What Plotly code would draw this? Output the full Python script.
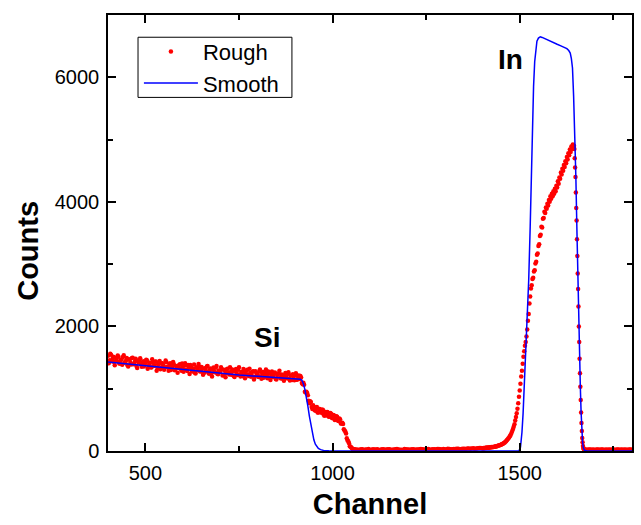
import plotly.graph_objects as go

# ---------------- data ----------------
# Rough spectrum (red points): channel / counts
rough_ch_si = list(range(400, 1064, 4))
rough_counts_si = [
    1530, 1457, 1544, 1480, 1427, 1499, 1446, 1513, 1404, 1471, 1508, 1415, 1447, 1378, 1475, 1422,
    1494, 1391, 1437, 1364, 1446, 1463, 1390, 1416, 1358, 1425,
    1457, 1364, 1407, 1339, 1426, 1373, 1435, 1338, 1395, 1312, 1404, 1371, 1339, 1426, 1343, 1385,
    1302, 1360, 1392, 1309, 1361, 1333, 1391, 1288, 1355,
    1308, 1376, 1283, 1336, 1379, 1287, 1320, 1257, 1345, 1298, 1351, 1279, 1321, 1249, 1327, 1355,
    1258, 1300, 1243, 1311, 1269, 1337, 1239, 1292, 1270,
    1313, 1222, 1290, 1249, 1322, 1230, 1269, 1307, 1206, 1284, 1247, 1306, 1224, 1268, 1206, 1284,
    1243, 1306, 1205, 1253, 1216, 1280, 1188, 1257, 1225,
    1278, 1196, 1244, 1177, 1255, 1218, 1276, 1179, 1237, 1190, 1253, 1156, 1219, 1242, 1175, 1228,
    1156, 1214, 1177, 1235, 1158, 1211, 1139, 1197, 1215, 1143, 1196, 1155,
    1180, 1070, 1065, 940, 930, 805, 800, 705, 735, 660, 695, 620, 673, 630, 663, 585,
    625, 570, 615, 555, 600, 525, 568, 515, 548, 480, 510, 440, 435, 330, 280, 170,
    125, 70, 45, 28, 25,
]

rough_ch_si2 = list(range(402, 1062, 4))
rough_counts_si2 = [
    1408, 1560, 1442, 1514, 1376, 1482, 1534, 1406, 1463, 1385, 1536, 1428, 1495, 1357, 1464, 1390,
    1497, 1399, 1481, 1333, 1419, 1491, 1353, 1440, 1392,
    1464, 1321, 1418, 1345, 1472, 1365, 1432, 1289, 1391, 1443, 1336, 1408, 1305, 1452, 1349, 1287,
    1409, 1321, 1428, 1295, 1363, 1255, 1382, 1319, 1406,
    1274, 1407, 1305, 1382, 1235, 1348, 1276, 1389, 1246, 1324, 1397, 1275, 1348, 1225, 1323, 1286,
    1364, 1242, 1324, 1197, 1340, 1263, 1366, 1233, 1286,
    1344, 1213, 1306, 1184, 1318, 1251, 1345, 1223, 1281, 1190, 1318, 1222, 1345, 1198, 1257, 1315,
    1169, 1287, 1220, 1319, 1192, 1271, 1149, 1282, 1216,
    1189, 1307, 1160, 1268, 1206, 1309, 1167, 1245, 1138, 1276, 1204, 1262, 1146, 1239, 1287, 1165,
    1218, 1126, 1254, 1167, 1265, 1133, 1211, 1234, 1136, 1250, 1148, 1211,
    1205, 1090, 1095, 950, 950, 895, 765, 785, 675, 710, 647, 705, 617, 674, 614, 662,
    565, 625, 625, 550, 610, 535, 579, 496, 559, 491, 523, 443, 453, 350, 315, 205,
    155, 78, 57, 30, 27,
]

rough_ch_gap = list(range(1068, 1400, 8))
rough_counts_gap = [
    22, 30, 18, 26, 20, 28, 24, 16, 30, 22, 27, 19, 25, 31, 22, 18, 27, 24, 30, 21, 26,
    33, 24, 28, 20, 30, 26, 32, 24, 29, 35, 27, 31, 36, 30, 38, 33, 40, 42, 38, 45, 48,
]
rough_ch_gap2 = list(range(1064, 1396, 8))
rough_counts_gap2 = [
    26, 20, 28, 23, 31, 19, 25, 29, 21, 27, 24, 30, 20, 28, 25, 22, 31, 26, 21, 29, 24,
    27, 30, 23, 31, 26, 28, 33, 27, 31, 26, 34, 29, 33, 38, 32, 37, 41, 36, 44, 40, 47,
]

rough_ch_in = list(range(1400, 1646, 2)) + [1645]
rough_counts_in = [
    45, 42, 50, 46, 52, 48, 55, 51, 58, 54, 60, 57, 63, 60, 66, 64, 70, 68, 75, 74,
    82, 84, 88, 92, 97, 102, 108, 112, 120, 128, 138, 148, 160, 175, 188, 205, 222, 240, 262, 290,
    320, 352, 388, 430, 490, 545, 605, 680, 765, 870, 970, 1080, 1195, 1290, 1400, 1512, 1600, 1690,
    1750, 1840, 1950, 2090, 2200, 2370, 2480, 2610, 2660, 2760, 2780, 2880, 2900, 3010, 3040, 3150,
    3170, 3290, 3320, 3450, 3470, 3600, 3590, 3730, 3740, 3840, 3820, 3910, 3890, 3970, 3940, 4030,
    4000, 4090, 4050, 4130, 4090, 4170, 4130, 4210, 4170, 4260, 4230, 4330, 4290, 4390, 4370, 4470,
    4440, 4530, 4500, 4590, 4560, 4650, 4620, 4720, 4680, 4780, 4750, 4840, 4800, 4890, 4850, 4920,
    4870, 4900,
]

rough_ch_edge = list(range(1646, 1673))
rough_counts_edge = [
    4850, 4700, 4550, 4400, 4150, 3900, 3700, 3400, 3130, 2850, 2600, 2320, 2000, 1750, 1480,
    1250, 1030, 820, 620, 450, 320, 210, 140, 80, 50, 35, 28,
]

rough_ch_tail = list(range(1676, 1804, 6))
rough_counts_tail = [24, 20, 26, 22, 18, 25, 21, 23, 19, 26, 22, 20, 24, 18, 23, 21, 25, 19, 22, 20, 24, 21]
rough_ch_tail2 = list(range(1679, 1800, 6))
rough_counts_tail2 = [21, 25, 19, 23, 22, 26, 20, 24, 18, 22, 25, 21, 23, 19, 24, 22, 20, 25, 21, 23, 19]

# Smooth simulation (blue line)
smooth_ch = [
    400, 450, 500, 550, 600, 650, 700, 750, 800, 850, 900, 910, 914, 918, 922, 926, 930, 934,
    938, 942, 946, 950, 954, 958, 962, 968, 976, 990, 1010, 1490, 1498, 1502, 1506, 1509, 1512,
    1515, 1519, 1524, 1528, 1531, 1534, 1537, 1540, 1543, 1546, 1550, 1555, 1560, 1570, 1580,
    1590, 1600, 1610, 1620, 1626, 1631, 1635, 1638, 1641, 1644, 1647, 1650, 1653, 1656, 1658,
    1660, 1662, 1664, 1666, 1668, 1670, 1673, 1680, 1700, 1800,
]
smooth_counts = [
    1430, 1400, 1370, 1340, 1310, 1278, 1245, 1222, 1200, 1180, 1162, 1158, 1152, 1135, 1080,
    990, 870, 720, 560, 410, 280, 180, 110, 65, 40, 22, 10, 4, 0, 0, 5, 60, 300, 600, 1000,
    1500, 2100, 2740, 3600, 4500, 5300, 5850, 6250, 6480, 6580, 6630, 6650, 6640, 6610, 6580,
    6555, 6530, 6505, 6480, 6460, 6430, 6390, 6300, 6150, 5700, 5150, 4400, 3500, 2500, 1940,
    1480, 1020, 620, 320, 140, 50, 12, 2, 0, 0,
]

rough_pairs = sorted(zip(
    rough_ch_si + rough_ch_si2 + rough_ch_gap + rough_ch_gap2 + rough_ch_in + rough_ch_edge
    + rough_ch_tail + rough_ch_tail2,
    rough_counts_si + rough_counts_si2 + rough_counts_gap + rough_counts_gap2 + rough_counts_in
    + rough_counts_edge + rough_counts_tail + rough_counts_tail2,
))
rough_ch = [p[0] for p in rough_pairs]
rough_counts = [p[1] for p in rough_pairs]

x_ticks = [500, 1000, 1500]
y_ticks = [0, 2000, 4000, 6000]

FONT = "Liberation Sans, Arial, sans-serif"

fig = go.Figure()
fig.add_trace(go.Scatter(
    x=rough_ch, y=rough_counts, mode="markers", name="Rough",
    marker=dict(color="#ff0000", size=4.5, line=dict(width=0)),
))
fig.add_trace(go.Scatter(
    x=smooth_ch, y=smooth_counts, mode="lines", name="Smooth",
    line=dict(color="#0000ff", width=1.5),
))

fig.add_annotation(x=825, y=1830, xref="x", yref="y", text="<b>Si</b>", showarrow=False,
                   font=dict(family=FONT, size=28, color="black"))
fig.add_annotation(x=1475, y=6280, xref="x", yref="y", text="<b>In</b>", showarrow=False,
                   font=dict(family=FONT, size=28, color="black"))
# y-axis title (placed below centre, as in the original)
fig.add_annotation(x=-0.152, y=0.46, xref="paper", yref="paper", text="<b>Counts</b>",
                   textangle=-90, showarrow=False, xanchor="center", yanchor="middle",
                   font=dict(family=FONT, size=29, color="black"))

# legend frame (compact box as in the original)
fig.add_shape(type="rect", xref="paper", yref="paper", x0=0.0573, x1=0.351, y0=0.811, y1=0.949,
              line=dict(color="black", width=1), fillcolor="rgba(0,0,0,0)", layer="above")

axis_common = dict(
    showline=True, linecolor="black", linewidth=1.5, mirror="ticks",
    ticks="inside", ticklen=8, tickwidth=1.5, tickcolor="black",
    showgrid=False, zeroline=False,
    tickfont=dict(family=FONT, size=20, color="black"),
)

fig.update_xaxes(
    range=[400, 1800], tickmode="array", tickvals=x_ticks,
    minor=dict(tickvals=[750, 1250, 1750], ticks="inside", ticklen=5, tickwidth=1.5, tickcolor="black"),
    title=dict(text="<b>Channel</b>", font=dict(family=FONT, size=29, color="black"), standoff=11),
    ticklabelstandoff=3,
    **axis_common,
)
fig.update_yaxes(
    range=[0, 7000], tickmode="array", tickvals=y_ticks,
    minor=dict(tickvals=[1000, 3000, 5000], ticks="inside", ticklen=5, tickwidth=1.5, tickcolor="black"),
    ticklabelstandoff=3,
    **axis_common,
)

fig.update_layout(
    width=641, height=525,
    margin=dict(l=108, r=9, t=15, b=74, autoexpand=False),
    paper_bgcolor="white", plot_bgcolor="white",
    showlegend=True,
    legend=dict(
        x=0.059, y=0.964, xanchor="left", yanchor="top",
        borderwidth=0, bgcolor="rgba(0,0,0,0)",
        font=dict(family=FONT, size=22, color="black"),
        itemwidth=54, tracegroupgap=0,
    ),
)

fig.write_html("out.html")
